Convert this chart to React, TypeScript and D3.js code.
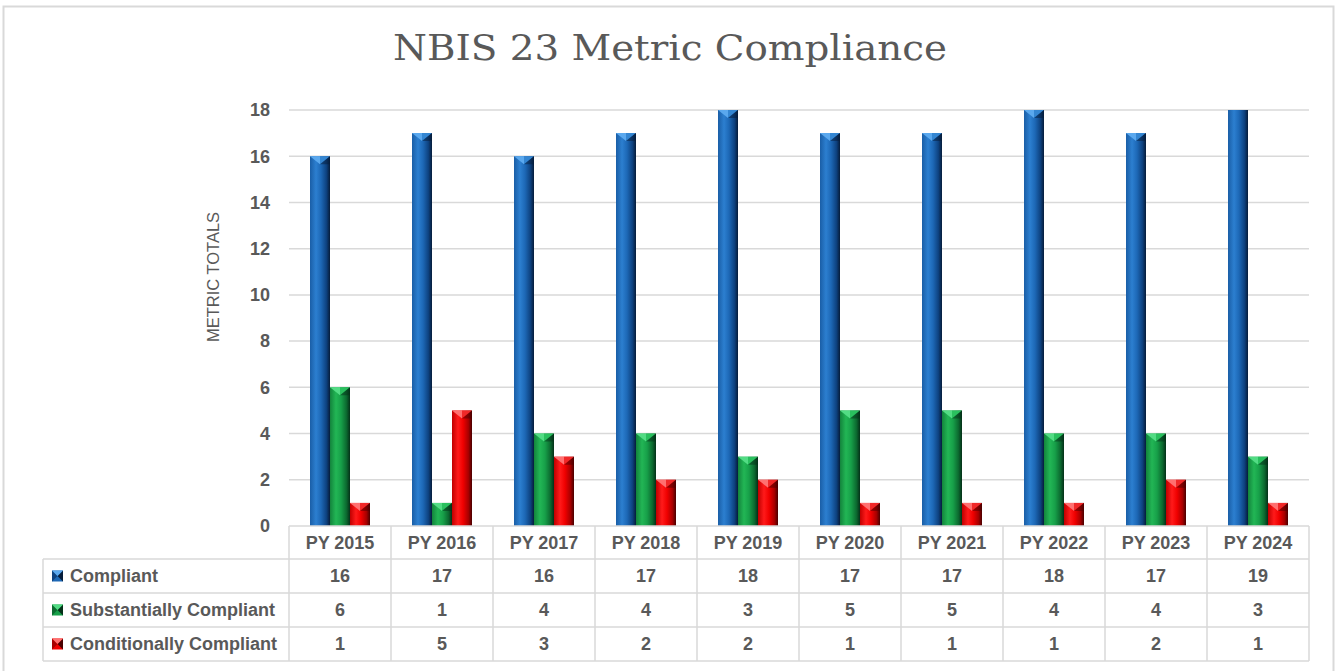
import * as d3 from 'd3';

const categories = ['PY 2015', 'PY 2016', 'PY 2017', 'PY 2018', 'PY 2019', 'PY 2020', 'PY 2021', 'PY 2022', 'PY 2023', 'PY 2024'];
const compliant = [16, 17, 16, 17, 18, 17, 17, 18, 17, 19];
const substantiallyCompliant = [6, 1, 4, 4, 3, 5, 5, 4, 4, 3];
const conditionallyCompliant = [1, 5, 3, 2, 2, 1, 1, 1, 2, 1];
const seriesNames = ['Compliant', 'Substantially Compliant', 'Conditionally Compliant'];
const yTicks = [0, 2, 4, 6, 8, 10, 12, 14, 16, 18];

const W = 1336;
const H = 671;
const plot = { left: 289, right: 1309, top: 110, bottom: 526 };
const tableLeft = 43;
const rowH = 34;
const groupWidth = 60;
const textColor = '#595959';
const gridColor = '#d9d9d9';
const font = '"Liberation Sans", Arial, sans-serif';
const labelSize = 18;

// shades per series: gradient stops + bevel colours
const palettes = [
  { id: 'blue', stops: ['#1a5ea6', '#2c7fd0', '#1d68b6', '#0e4280', '#061c3a'], top: '#5aa8ee', topDark: '#3486d2' },
  { id: 'green', stops: ['#13843c', '#22b655', '#17a049', '#0c6a30', '#043018'], top: '#52dc84', topDark: '#2ac05e' },
  { id: 'red', stops: ['#c00000', '#ff1a1a', '#f00000', '#a80000', '#4a0000'], top: '#ff7070', topDark: '#f02828' },
];

export default function App() {
  const seriesValues = [compliant, substantiallyCompliant, conditionallyCompliant];

  const x = d3.scaleBand<string>().domain(categories).range([plot.left, plot.right]);
  const inner = d3
    .scaleBand<string>()
    .domain(seriesNames)
    .range([(x.bandwidth() - groupWidth) / 2, (x.bandwidth() + groupWidth) / 2]);
  const y = d3.scaleLinear().domain([0, 18]).range([plot.bottom, plot.top]);

  const headerTop = plot.bottom;
  const rowsTop = headerTop + rowH - 1;
  const tableBottom = rowsTop + rowH * 3;

  return (
    <svg
      width={W}
      height={H}
      style={{ position: 'absolute', left: 0, top: 0, background: '#fff' }}
      fontFamily={font}
    >
      <defs>
        {palettes.map((p) => (
          <linearGradient key={p.id} id={`grad-${p.id}`} x1="0" x2="1" y1="0" y2="0">
            {p.stops.map((c, i) => (
              <stop key={i} offset={`${[0, 0.3, 0.55, 0.82, 1][i] * 100}%`} stopColor={c} />
            ))}
          </linearGradient>
        ))}
        <clipPath id="plot-clip">
          <rect x={plot.left} y={plot.top} width={plot.right - plot.left} height={plot.bottom - plot.top} />
        </clipPath>
      </defs>

      {/* outer frame */}
      <rect x={3.5} y={6.5} width={1330} height={700} fill="#fff" stroke={gridColor} strokeWidth={2} />

      {/* title */}
      <text
        x={670}
        y={60}
        textAnchor="middle"
        fontFamily='"DejaVu Serif", "Liberation Serif", serif'
        fontSize={36}
        textLength={554}
        lengthAdjust="spacingAndGlyphs"
        fill={textColor}
      >
        NBIS 23 Metric Compliance
      </text>

      {/* gridlines */}
      {yTicks.slice(1).map((t) => (
        <line key={t} x1={plot.left} x2={plot.right} y1={y(t)} y2={y(t)} stroke={gridColor} strokeWidth={1.5} />
      ))}

      {/* y tick labels */}
      {yTicks.map((t) => (
        <text key={t} x={270} y={y(t)} dy="0.35em" textAnchor="end" fontSize={labelSize} fontWeight="bold" fill={textColor}>
          {t}
        </text>
      ))}

      {/* y axis title */}
      <text
        transform={`translate(213,${(plot.top + plot.bottom) / 2 - 41}) rotate(-90)`}
        dy="0.35em"
        textAnchor="middle"
        fontSize={16.5}
        fill={textColor}
      >
        METRIC TOTALS
      </text>

      {/* bars */}
      <g clipPath="url(#plot-clip)">
        {categories.map((cat, ci) =>
          seriesNames.map((name, si) => {
            const p = palettes[si];
            const v = seriesValues[si][ci];
            const x0 = (x(cat) ?? 0) + (inner(name) ?? 0);
            const bw = inner.bandwidth();
            const yTop = y(v);
            const bevel = Math.min(8, (plot.bottom - yTop) / 2);
            const xm = x0 + bw / 2;
            return (
              <g key={`${cat}-${name}`}>
                <rect x={x0} y={yTop} width={bw} height={plot.bottom - yTop} fill={`url(#grad-${p.id})`} />
                <polygon points={`${x0},${yTop} ${xm},${yTop} ${xm},${yTop + bevel}`} fill={p.top} />
                <polygon points={`${xm},${yTop} ${x0 + bw},${yTop} ${xm},${yTop + bevel}`} fill={p.topDark} />
                <polygon points={`${x0 + bw},${yTop} ${x0 + bw},${yTop + bevel} ${xm},${yTop + bevel}`} fill={p.stops[4]} opacity={0.5} />
              </g>
            );
          })
        )}
      </g>

      {/* data table */}
      <g stroke={gridColor} strokeWidth={1.5} fill="none">
        <line x1={plot.left} x2={plot.right} y1={headerTop} y2={headerTop} />
        {[0, 1, 2, 3].map((r) => (
          <line key={r} x1={tableLeft} x2={plot.right} y1={rowsTop + r * rowH} y2={rowsTop + r * rowH} />
        ))}
        <line x1={tableLeft} x2={tableLeft} y1={rowsTop} y2={tableBottom} />
        {categories.map((cat) => (
          <line key={cat} x1={x(cat)} x2={x(cat)} y1={headerTop} y2={tableBottom} />
        ))}
        <line x1={plot.right} x2={plot.right} y1={headerTop} y2={tableBottom} />
      </g>

      {categories.map((cat) => (
        <text
          key={cat}
          x={(x(cat) ?? 0) + x.bandwidth() / 2}
          y={headerTop + rowH / 2}
          dy="0.35em"
          textAnchor="middle"
          fontSize={labelSize}
          fontWeight="bold"
          fill={textColor}
        >
          {cat}
        </text>
      ))}

      {seriesNames.map((name, si) => {
        const p = palettes[si];
        const cy = rowsTop + si * rowH + rowH / 2;
        const k = 11;
        const kx = 52;
        const ky = cy - k / 2;
        return (
          <g key={name}>
            <rect x={kx} y={ky} width={k} height={k} fill={p.stops[2]} />
            <polygon points={`${kx},${ky} ${kx + k / 2},${cy} ${kx},${ky + k}`} fill={p.stops[3]} />
            <polygon points={`${kx + k},${ky} ${kx + k / 2},${cy} ${kx + k},${ky + k}`} fill={p.stops[4]} />
            <polygon points={`${kx},${ky} ${kx + k},${ky} ${kx + k / 2},${cy}`} fill={p.top} />
            <text x={70} y={cy} dy="0.35em" fontSize={labelSize} fontWeight="bold" fill={textColor}>
              {name}
            </text>
            {categories.map((cat, ci) => (
              <text
                key={cat}
                x={(x(cat) ?? 0) + x.bandwidth() / 2}
                y={cy}
                dy="0.35em"
                textAnchor="middle"
                fontSize={labelSize}
                fontWeight="bold"
                fill={textColor}
              >
                {seriesValues[si][ci]}
              </text>
            ))}
          </g>
        );
      })}
    </svg>
  );
}
